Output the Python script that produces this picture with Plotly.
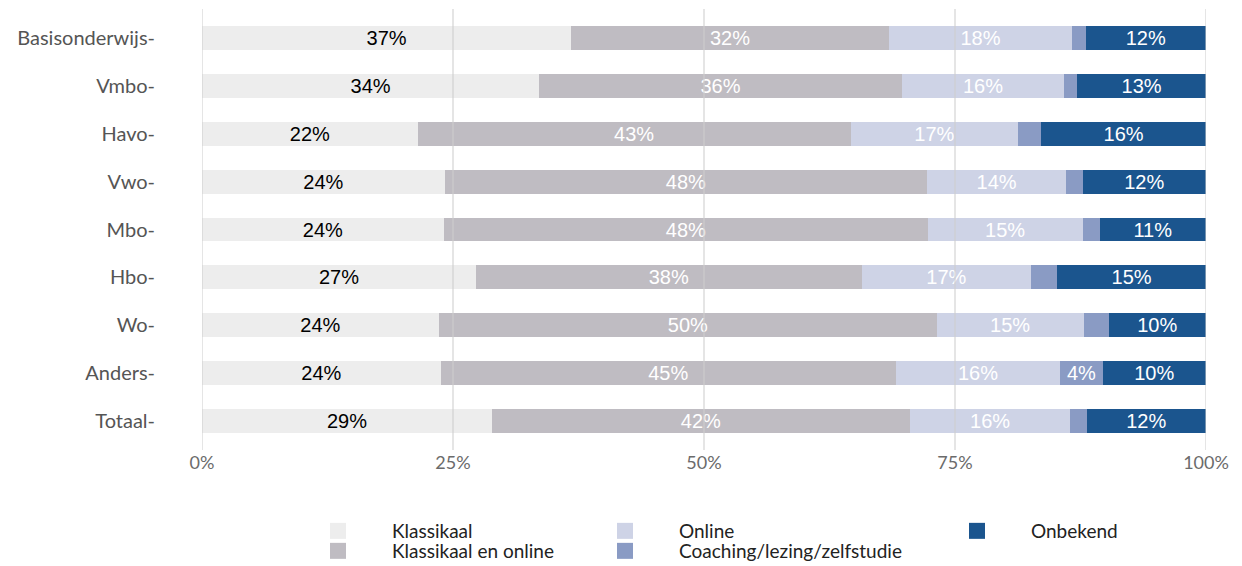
import plotly.graph_objects as go

# categories, top to bottom
categories = ["Basisonderwijs", "Vmbo", "Havo", "Vwo", "Mbo", "Hbo", "Wo", "Anders", "Totaal"]

# shares in percent
klassikaal = [36.8, 33.6, 21.5, 24.2, 24.1, 27.3, 23.6, 23.8, 28.9]
klassikaal_online = [31.6, 36.1, 43.1, 48.0, 48.2, 38.4, 49.6, 45.3, 41.6]
online = [18.3, 16.2, 16.7, 13.9, 15.4, 16.9, 14.6, 16.4, 16.0]
coaching = [1.3, 1.3, 2.3, 1.6, 1.7, 2.6, 2.5, 4.2, 1.6]
onbekend = [12.0, 12.8, 16.4, 12.3, 10.6, 14.8, 9.7, 10.3, 11.9]

x_ticks = [0, 25, 50, 75, 100]
x_ticklabels = ["0%", "25%", "50%", "75%", "100%"]

series = [
    ("Klassikaal", klassikaal, "#EDEDED", "black"),
    ("Klassikaal en online", klassikaal_online, "#BFBCC2", "white"),
    ("Online", online, "#CED3E6", "white"),
    ("Coaching/lezing/zelfstudie", coaching, "#8A9BC4", "white"),
    ("Onbekend", onbekend, "#1B558E", "white"),
]

# legend layout: 3 columns x 2 rows, one legend box per entry (column, row)
legend_cells = [(0, 0), (0, 1), (1, 0), (1, 1), (2, 0)]
legend_col_x = [276, 563, 915]
legend_row_y = [523, 543]

fig = go.Figure()
for i, (name, vals, color, txtcolor) in enumerate(series):
    labels = [f"{round(v)}%" if v >= 3 else "" for v in vals]
    fig.add_trace(go.Bar(
        x=vals, y=categories, orientation="h", name=name,
        marker=dict(color=color, line=dict(width=0)),
        width=0.5, text=labels, textposition="inside",
        insidetextanchor="middle", textangle=0, constraintext="none",
        textfont=dict(family="Liberation Sans", size=20, color=txtcolor),
        showlegend=False, hoverinfo="skip",
    ))
    # legend key (square marker, bigger than the default bar key)
    fig.add_trace(go.Scatter(
        x=[None], y=[categories[0]], mode="markers", name=name,
        marker=dict(symbol="square", size=16, color=color),
        legend="legend" if i == 0 else f"legend{i + 1}", hoverinfo="skip",
    ))

# grid lines drawn over the bars, at the tick positions
for t in x_ticks:
    fig.add_shape(type="line", xref="x", yref="paper", x0=t, x1=t, y0=0, y1=1,
                  line=dict(color="rgba(205,205,205,0.7)", width=1.5), layer="above")

legends = {}
for i, (c, r) in enumerate(legend_cells):
    key = "legend" if i == 0 else f"legend{i + 1}"
    legends[key] = dict(
        orientation="v", xref="container", yref="container",
        xanchor="left", yanchor="middle",
        x=legend_col_x[c] / 1242, y=1 - legend_row_y[r] / 566,
        font=dict(family="Lato", size=19, color="#222222"),
        bgcolor="rgba(0,0,0,0)", itemwidth=98,
    )

fig.update_layout(
    width=1242, height=566,
    margin=dict(l=194, r=44, t=1, b=124, autoexpand=False),
    plot_bgcolor="white", paper_bgcolor="white",
    barmode="stack", bargap=0.5,
    xaxis=dict(range=[0, 100], tickvals=x_ticks, ticktext=x_ticklabels,
               showgrid=False, zeroline=False, showline=False, ticks="",
               ticklabelstandoff=0,
               tickfont=dict(family="Lato", size=18, color="#6B6B6B")),
    yaxis=dict(categoryorder="array", categoryarray=categories,
               tickvals=categories, ticktext=[c + "-" for c in categories],
               range=[len(categories) - 0.4, -0.6],
               showgrid=False, zeroline=False, showline=False, ticks="",
               ticklabelstandoff=46,
               tickfont=dict(family="Lato", size=20, color="#555555")),
    **legends,
)

fig.write_html("out.html")
